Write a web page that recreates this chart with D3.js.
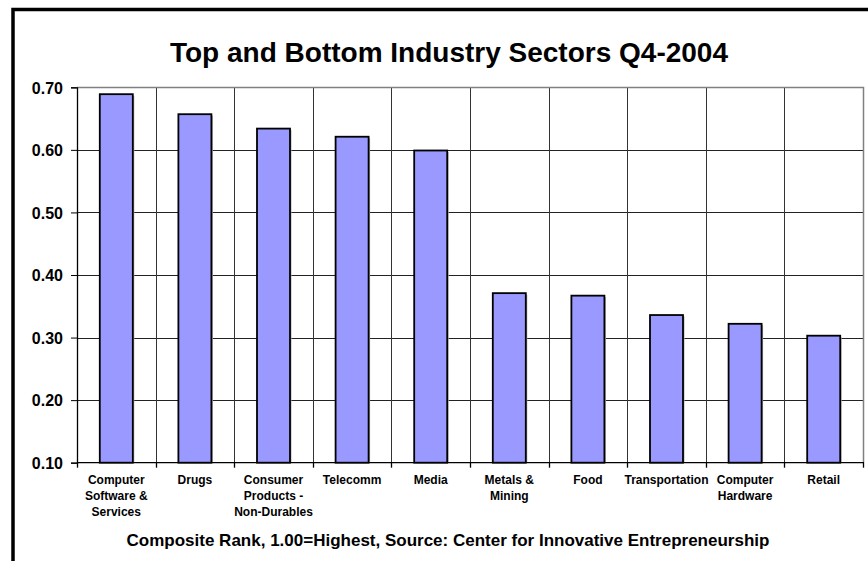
<!DOCTYPE html>
<html>
<head>
<meta charset="utf-8">
<script src="https://cdn.jsdelivr.net/npm/d3@7"></script>
<style>
  body { margin: 0; background: #fff; }
  svg { display: block; font-family: Arial, "Liberation Sans", sans-serif; font-weight: bold; }
</style>
</head>
<body>
<div id="chart"></div>
<script>
const sectors = [
  ["Computer", "Software &", "Services"],
  ["Drugs"],
  ["Consumer", "Products -", "Non-Durables"],
  ["Telecomm"],
  ["Media"],
  ["Metals &", "Mining"],
  ["Food"],
  ["Transportation"],
  ["Computer", "Hardware"],
  ["Retail"]
];
const ranks = [0.689, 0.657, 0.634, 0.621, 0.599, 0.371, 0.367, 0.336, 0.322, 0.303];
const yTicks = [0.10, 0.20, 0.30, 0.40, 0.50, 0.60, 0.70];

const W = 868, H = 561;
const plot = {left: 77, right: 863, top: 87.3, bottom: 462.7};

const svg = d3.select("#chart").append("svg")
  .attr("width", W)
  .attr("height", H);

// outer frame (runs off the right and bottom edges)
svg.append("rect")
  .attr("x", 13).attr("y", 9.5)
  .attr("width", W + 20).attr("height", H + 20)
  .attr("fill", "#fff")
  .attr("stroke", "#000")
  .attr("stroke-width", 3.5);

svg.append("text")
  .attr("x", 449).attr("y", 62)
  .attr("text-anchor", "middle")
  .attr("font-size", "28px")
  .text("Top and Bottom Industry Sectors Q4-2004");

const keys = sectors.map((d, i) => i);
const x = d3.scaleBand().domain(keys).range([plot.left, plot.right]).padding(0);
const y = d3.scaleLinear().domain([0.10, 0.70]).range([plot.bottom, plot.top]);

const g = svg.append("g");

// horizontal grid
g.selectAll("line.h")
  .data(yTicks.slice(1, -1))
  .join("line")
  .attr("x1", plot.left).attr("x2", plot.right)
  .attr("y1", d => Math.round(y(d)) + 0.5).attr("y2", d => Math.round(y(d)) + 0.5)
  .attr("stroke", "#222");

// vertical grid at category boundaries
g.selectAll("line.v")
  .data(keys.slice(1))
  .join("line")
  .attr("x1", d => Math.round(x(d)) + 0.5).attr("x2", d => Math.round(x(d)) + 0.5)
  .attr("y1", plot.top).attr("y2", plot.bottom)
  .attr("stroke", "#333");

// plot border top/right (grey)
g.append("path")
  .attr("d", `M${plot.left},${Math.round(plot.top) + 0.5}H${plot.right + 0.5}V${plot.bottom}`)
  .attr("fill", "none")
  .attr("stroke", "#808080")
  .attr("stroke-width", 1.5);

// bars
const barW = x.bandwidth() * 0.42;
g.selectAll("rect.shadow")
  .data(ranks)
  .join("rect")
  .attr("x", (d, i) => x(i) + (x.bandwidth() - barW) / 2 + 1.5)
  .attr("y", d => y(d) + 1.5)
  .attr("width", barW)
  .attr("height", d => plot.bottom - y(d) - 1.5)
  .attr("fill", "#b0b0b0");

g.selectAll("rect.bar")
  .data(ranks)
  .join("rect")
  .attr("x", (d, i) => x(i) + (x.bandwidth() - barW) / 2)
  .attr("y", d => y(d))
  .attr("width", barW)
  .attr("height", d => plot.bottom - y(d))
  .attr("fill", "#9999ff")
  .attr("stroke", "#000")
  .attr("stroke-width", 1.8);

// y axis
const yAxis = g.append("g")
  .attr("transform", `translate(${plot.left},0)`)
  .call(d3.axisLeft(y).tickValues(yTicks).tickFormat(d3.format(".2f")).tickSize(6).tickPadding(8));
yAxis.select(".domain").attr("stroke", "#000").attr("stroke-width", 1.3);
yAxis.selectAll(".tick line").attr("stroke", "#000");
yAxis.selectAll(".tick text")
  .attr("font-size", "16px")
  .attr("font-family", "Arial, 'Liberation Sans', sans-serif")
  .attr("font-weight", "bold")
  .attr("fill", "#000")
  .attr("dy", "0.36em");

// x axis: ticks at boundaries
const xAxisG = g.append("g");
xAxisG.append("line")
  .attr("x1", plot.left).attr("x2", plot.right + 1)
  .attr("y1", plot.bottom).attr("y2", plot.bottom)
  .attr("stroke", "#000").attr("stroke-width", 1.3);
xAxisG.selectAll("line.t")
  .data(keys.concat([keys.length]))
  .join("line")
  .attr("x1", d => (d < keys.length ? Math.round(x(d)) : plot.right) + 0.5)
  .attr("x2", d => (d < keys.length ? Math.round(x(d)) : plot.right) + 0.5)
  .attr("y1", plot.bottom).attr("y2", plot.bottom + 5)
  .attr("stroke", "#000").attr("stroke-width", 1.3);

const labels = xAxisG.selectAll("text")
  .data(sectors)
  .join("text")
  .attr("text-anchor", "middle")
  .attr("font-size", "12px");
labels.selectAll("tspan")
  .data((d, i) => d.map(t => ({t, i})))
  .join("tspan")
  .attr("x", d => x(d.i) + x.bandwidth() / 2)
  .attr("y", (d, j) => 484 + j * 16)
  .text(d => d.t);

svg.append("text")
  .attr("x", 448).attr("y", 546)
  .attr("text-anchor", "middle")
  .attr("font-size", "17px")
  .text("Composite Rank, 1.00=Highest, Source: Center for Innovative Entrepreneurship");
</script>
</body>
</html>
